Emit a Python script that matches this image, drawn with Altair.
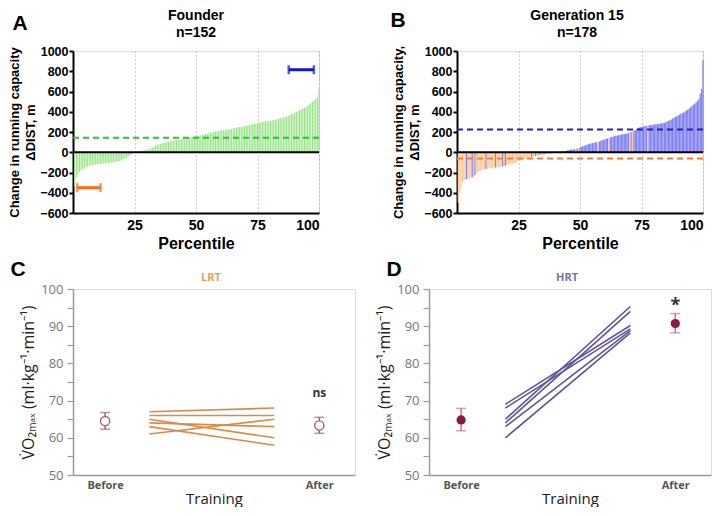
import altair as alt
import pandas as pd

# ---------------- data ----------------
founder_dist = [
    -335, -250, -215, -195, -180, -166, -158, -150, -141, -134,
    -128, -125, -122, -120, -118, -117, -115, -113, -111, -109,
    -108, -106, -104, -102, -99, -96, -93, -89, -85, -78,
    -71, -63, -55, -46, -33, -23, -14, -7, -3, 3,
    8, 13, 16, 19, 24, 28, 33, 40, 48, 58,
    66, 72, 78, 84, 89, 94, 97, 100, 103, 106,
    110, 112, 115, 118, 121, 125, 129, 133, 137, 140,
    143, 146, 149, 152, 155, 158, 160, 163, 166, 171,
    176, 180, 185, 190, 194, 197, 200, 204, 207, 210,
    214, 217, 219, 221, 223, 226, 229, 232, 235, 239,
    243, 247, 250, 253, 255, 258, 261, 265, 269, 273,
    276, 278, 280, 284, 290, 296, 299, 301, 303, 305,
    308, 312, 315, 318, 321, 325, 331, 336, 340, 344,
    348, 352, 359, 367, 375, 383, 389, 397, 408, 418,
    425, 432, 439, 447, 458, 474, 488, 500, 512, 527,
    545, 625,
]

gen15_dist = [
    -500, -400, -350, -300, -280, -272, -265, -262, -258, -252,
    -246, -238, -228, -210, -198, -186, -180, -175, -171, -168,
    -165, -162, -160, -158, -156, -153, -151, -150, -148, -146,
    -144, -141, -138, -135, -132, -128, -124, -120, -116, -112,
    -107, -102, -97, -92, -87, -82, -77, -72, -67, -62,
    -58, -54, -50, -47, -44, -41, -38, -35, -32, -30,
    -27, -25, -22, -20, -18, -16, -14, -12, -10, -8,
    -6, -4, -2, 1, 4, 7, 10, 13, 16, 19,
    21, 24, 26, 28, 31, 34, 38, 42, 48, 54,
    60, 65, 70, 75, 79, 83, 87, 90, 93, 96,
    99, 102, 106, 112, 118, 123, 128, 133, 137, 141,
    146, 151, 156, 160, 163, 166, 169, 172, 175, 177,
    180, 183, 186, 190, 195, 200, 208, 212, 218, 226,
    238, 246, 250, 253, 256, 259, 262, 264, 266, 268,
    270, 272, 274, 276, 278, 280, 283, 286, 289, 292,
    297, 303, 309, 316, 324, 332, 340, 348, 356, 364,
    372, 379, 386, 393, 402, 412, 422, 432, 443, 455,
    468, 480, 492, 505, 525, 580, 625, 910,
]
# rank positions (0-based) of high responders among the negative side, and low responders among the positive side
gen15_high_among_neg = [6, 10, 12, 20, 27, 32, 34, 53, 56, 59, 62, 67]
gen15_low_among_pos = [77, 85, 87, 101, 109, 124, 126, 137]
gen15_last_low_rank = 72

founder_mean = 143
gen15_high_mean = 225
gen15_low_mean = -62
founder_low_range = [1.7, 11.2]
founder_low_level = -350
founder_high_range = [87.7, 97.9]
founder_high_level = 815

lrt_before = [67, 66, 65, 64, 63, 61]
lrt_after = [68, 66, 60, 63, 58, 65]
lrt_mean = [64.5, 63.3]
lrt_lo = [62.3, 61.2]
lrt_hi = [66.8, 65.5]

hrt_before = [69, 68, 65, 64, 63, 60]
hrt_after = [90.2, 89.3, 95.3, 94.0, 88.8, 88.2]
hrt_mean = [64.8, 90.7]
hrt_lo = [61.9, 88.2]
hrt_hi = [67.9, 93.4]

stages = ["Before", "After"]
stage_pos = [0, 3]
line_start = 0.62
line_end = 2.37

TOPFONT = "Liberation Sans"
BOTFONT = "Open Sans"

W_TOP, H_TOP = 246, 162
W_BOT, H_BOT = 282, 186


def pct_list(n):
    return [(i + 1) * 100.0 / n for i in range(n)]


def top_axes(ytitle):
    xax = alt.Axis(values=[25, 50, 75, 100], title="Percentile", grid=True,
                   gridDash=[1, 3], gridColor="#9a9a9a", gridWidth=1,
                   ticks=False, domainColor="black", domainWidth=2,
                   labelFont=TOPFONT, labelFontSize=14, labelFontWeight="bold",
                   labelColor="black", labelPadding=5,
                   titleFont=TOPFONT, titleFontSize=16, titleFontWeight="bold",
                   titleColor="black", titlePadding=3)
    yax = alt.Axis(values=list(range(-600, 1001, 200)), format="d", title=ytitle, grid=False,
                   domainColor="black", domainWidth=2, tickColor="black",
                   tickWidth=2, tickSize=4, labelFont=TOPFONT, labelFontSize=12.5,
                   labelFontWeight="bold", labelColor="black", labelPadding=1,
                   titleFont=TOPFONT, titleFontSize=13, titleFontWeight="bold",
                   titleColor="black", titleLineHeight=16, titlePadding=2)
    xs = alt.Scale(domain=[0, 100], nice=False, zero=False)
    ys = alt.Scale(domain=[-600, 1000], nice=False, zero=False)
    return (lambda f: alt.X(f, scale=xs, axis=xax)), (lambda f: alt.Y(f, scale=ys, axis=yax))


def text_layer(txt, dx, dy, font, size, color, weight="bold", baseline="middle", line_height=17):
    return alt.Chart(pd.DataFrame({"s": [txt]})).mark_text(
        font=font, fontSize=size, fontWeight=weight, color=color,
        align="center", baseline=baseline, lineBreak="\n", lineHeight=line_height).encode(
        text="s:N", x=alt.value(dx), y=alt.value(dy))


# Panel A
X, Y = top_axes(["Change in running capacity", "ΔDIST, m"])
dfA = pd.DataFrame({"pct": pct_list(len(founder_dist)), "val": founder_dist, "zero": 0})
barsA = alt.Chart(dfA).mark_rule(color="#97E487", strokeWidth=1.1).encode(
    x=X("pct:Q"), y=Y("val:Q"), y2="zero:Q")
zeroA = alt.Chart(pd.DataFrame({"val": [0]})).mark_rule(color="black", strokeWidth=2).encode(y=Y("val:Q"))
meanA = alt.Chart(pd.DataFrame({"val": [founder_mean]})).mark_rule(
    color="#2DC42D", strokeWidth=2, strokeDash=[6, 4]).encode(y=Y("val:Q"))
rngA = pd.DataFrame({
    "pct": [founder_low_range[0], founder_high_range[0]],
    "pct2": [founder_low_range[1], founder_high_range[1]],
    "val": [founder_low_level, founder_high_level],
    "grp": ["low", "high"],
})
rng_color = alt.Color("grp:N", scale=alt.Scale(domain=["low", "high"], range=["#FF6A1A", "#1414E0"]), legend=None)
rngRule = alt.Chart(rngA).mark_rule(strokeWidth=3).encode(
    x=X("pct:Q"), x2="pct2:Q", y=Y("val:Q"), color=rng_color)
capsA = pd.DataFrame({
    "pct": founder_low_range + founder_high_range,
    "val": [founder_low_level] * 2 + [founder_high_level] * 2,
    "grp": ["low", "low", "high", "high"],
})
rngCaps = alt.Chart(capsA).mark_tick(orient="vertical", size=9, thickness=2.5).encode(
    x=X("pct:Q"), y=Y("val:Q"), color=rng_color)
panelA = alt.layer(
    barsA, zeroA, meanA, rngRule, rngCaps,
    text_layer("A", -53, -27, TOPFONT, 21, "black"),
    text_layer("Founder\nn=152", W_TOP / 2, -42, TOPFONT, 14, "black", baseline="top"),
).properties(width=W_TOP, height=H_TOP)

# Panel B
X, Y = top_axes(["Change in running capacity,", "ΔDIST, m"])
grpB = []
for i in range(len(gen15_dist)):
    g = "L" if i <= gen15_last_low_rank else "H"
    if i in gen15_high_among_neg:
        g = "H"
    if i in gen15_low_among_pos:
        g = "L"
    grpB.append(g)
dfB = pd.DataFrame({"pct": pct_list(len(gen15_dist)), "val": gen15_dist, "zero": 0, "grp": grpB})
barsB = alt.Chart(dfB).mark_rule(strokeWidth=1.3).encode(
    x=X("pct:Q"), y=Y("val:Q"), y2="zero:Q",
    color=alt.Color("grp:N", scale=alt.Scale(domain=["L", "H"], range=["#FFCB98", "#8282F0"]), legend=None))
zeroB = alt.Chart(pd.DataFrame({"val": [0]})).mark_rule(color="black", strokeWidth=2).encode(y=Y("val:Q"))
meanB = alt.Chart(pd.DataFrame({"val": [gen15_high_mean, gen15_low_mean], "grp": ["H", "L"]})).mark_rule(
    strokeWidth=2, strokeDash=[6, 4]).encode(
    y=Y("val:Q"),
    color=alt.Color("grp:N", scale=alt.Scale(domain=["L", "H"], range=["#FF7A2E", "#2020C8"]), legend=None))
panelB = alt.layer(
    barsB, zeroB, meanB,
    text_layer("B", -59, -30, TOPFONT, 21, "black"),
    text_layer("Generation 15\nn=178", W_TOP / 2 - 3, -42, TOPFONT, 14, "black", baseline="top"),
).resolve_scale(color="independent").properties(width=W_TOP, height=H_TOP)


# ---------------- bottom panels ----------------
def vo2_panel(before, after, mean, lo, hi, line_color, pt_color, err_color, filled,
              ttl, ttl_color, note, note_level, note_size, letter, letter_dx):
    xs = alt.Scale(domain=[-0.45, 3.5], nice=False, zero=False)
    ys = alt.Scale(domain=[50, 100], nice=False, zero=False)
    xax = alt.Axis(values=stage_pos, labelExpr="datum.value == 0 ? 'Before' : 'After'",
                   title="Training", ticks=False, grid=False, domainColor="#9a9a9a",
                   domainWidth=1.5, labelFont=BOTFONT, labelFontSize=11,
                   labelFontWeight="bold", labelColor="#555555", labelPadding=4,
                   titleFont=BOTFONT, titleFontSize=15, titleFontWeight="normal",
                   titleColor="#222222", titlePadding=1)
    yax = alt.Axis(values=list(range(50, 101, 5)),
                   labelExpr="datum.value % 10 == 0 ? datum.label : ''",
                   grid=False, domainColor="#9a9a9a", domainWidth=1.5,
                   tickColor="#9a9a9a", tickWidth=1.2, tickSize=6,
                   labelFont=BOTFONT, labelFontSize=13, labelColor="#777777", labelPadding=4,
                   title="V\u0307O\u2082\u2098\u2090\u2093 (ml\u00b7kg\u207b\u00b9\u00b7min\u207b\u00b9)",
                   titleFont=BOTFONT, titleFontSize=16, titleFontWeight="normal",
                   titleColor="#222222", titlePadding=4)
    X = lambda f: alt.X(f, scale=xs, axis=xax)
    Y = lambda f: alt.Y(f, scale=ys, axis=yax)
    n = len(before)
    lines_df = pd.DataFrame({
        "subject": list(range(n)) * 2,
        "t": [line_start] * n + [line_end] * n,
        "v": list(before) + list(after),
    })
    lines = alt.Chart(lines_df).mark_line(color=line_color, strokeWidth=1.6).encode(
        x=X("t:Q"), y=Y("v:Q"), detail="subject:N")
    stats = pd.DataFrame({"t": stage_pos, "v": mean, "lo": lo, "hi": hi, "stage": stages})
    err = alt.Chart(stats).mark_rule(color=err_color, strokeWidth=1.5).encode(
        x=X("t:Q"), y=Y("lo:Q"), y2="hi:Q")
    caps_df = pd.DataFrame({"t": stage_pos * 2, "v": list(lo) + list(hi)})
    caps = alt.Chart(caps_df).mark_tick(orient="horizontal", color=err_color, size=10, thickness=1.5).encode(
        x=X("t:Q"), y=Y("v:Q"))
    if filled:
        pts = alt.Chart(stats).mark_point(shape="circle", filled=True, color=pt_color, size=85, opacity=1).encode(
            x=X("t:Q"), y=Y("v:Q"))
    else:
        pts = alt.Chart(stats).mark_point(shape="circle", filled=False, color=pt_color, size=85,
                                          strokeWidth=1.4, fill="white", fillOpacity=1, opacity=1).encode(
            x=X("t:Q"), y=Y("v:Q"))
    note_df = pd.DataFrame({"t": [stage_pos[1]], "v": [note_level], "s": [note]})
    notes = alt.Chart(note_df).mark_text(font=BOTFONT, fontSize=note_size, fontWeight="bold",
                                         color="#333333", baseline="middle").encode(
        x=X("t:Q"), y=Y("v:Q"), text="s:N")
    return alt.layer(
        lines, err, caps, pts, notes,
        text_layer(letter, letter_dx, -19, TOPFONT, 21, "black"),
        text_layer(ttl, W_BOT / 2 - 3, -11, BOTFONT, 11, ttl_color),
    ).properties(width=W_BOT, height=H_BOT)


panelC = vo2_panel(lrt_before, lrt_after, lrt_mean, lrt_lo, lrt_hi, "#D98B45", "#A3607E", "#A3607E",
                   False, "LRT", "#E6A05E", "ns", 72, 12, "C", -55)
panelD = vo2_panel(hrt_before, hrt_after, hrt_mean, hrt_lo, hrt_hi, "#5E5699", "#8C1A40", "#C27888",
                   True, "HRT", "#7B70A8", "*", 95.5, 18, "D", -35)

top = alt.hconcat(panelA, panelB, spacing=68)
bottom = alt.hconcat(panelC, panelD, spacing=20)
chart = alt.vconcat(top, bottom, spacing=6).properties(
    padding={"left": 0, "top": 0, "right": 0, "bottom": 0}
).configure_view(stroke=None).configure(background="white")

chart.save("out.html", embed_options={"renderer": "svg", "actions": False})
